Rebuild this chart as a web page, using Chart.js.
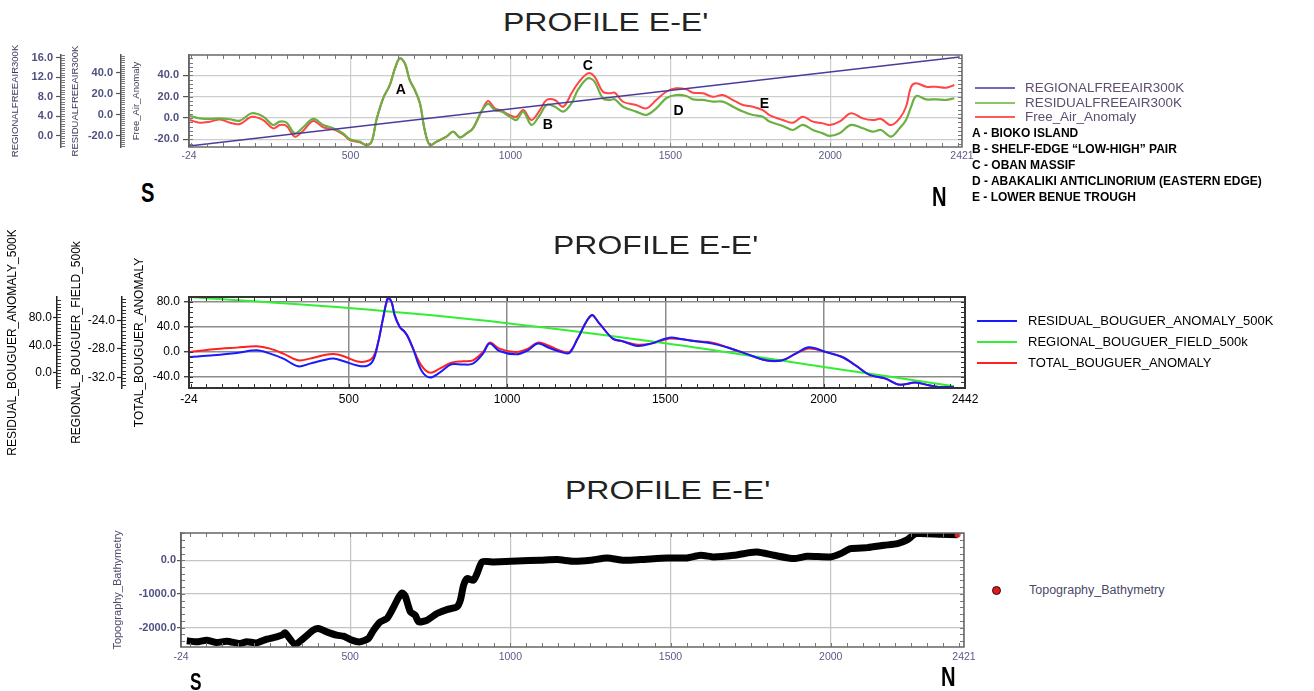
<!DOCTYPE html>
<html>
<head>
<meta charset="utf-8">
<script src="https://cdn.jsdelivr.net/npm/chart.js@4.4.1/dist/chart.umd.min.js"></script>
<style>
  html, body { margin: 0; padding: 0; background: #fff; }
  body { width: 1314px; height: 691px; position: relative; overflow: hidden; font-family: "Liberation Sans", Arial, sans-serif; }
  canvas { position: absolute; }
  .t { position: absolute; white-space: nowrap; line-height: 1; transform-origin: left center; }
  .title { font-size: 25px; color: #222; transform: scaleX(1.28); }
  .leg1 { font-size: 12px; color: #5e4e70; transform: scaleX(1.12); }
  .note { font-size: 12px; font-weight: bold; color: #000; }
  .leg2 { font-size: 13px; color: #000; }
  .leg3 { font-size: 12.5px; color: #4a4a6a; }
  .dir { font-size: 28px; font-weight: bold; color: #000; transform: scaleX(0.72); }
  .sw { position: absolute; height: 2px; width: 40px; }
</style>
</head>
<body>

<canvas id="freeAir" width="978" height="130" style="left:0;top:40px"></canvas>
<canvas id="bouguer" width="985" height="245" style="left:0;top:230px"></canvas>
<canvas id="topo" width="880" height="155" style="left:100px;top:520px"></canvas>

<div class="t title" style="left:503px;top:10px">PROFILE E-E'</div>
<div class="t title" style="left:553px;top:233px">PROFILE E-E'</div>
<div class="t title" style="left:565px;top:478px">PROFILE E-E'</div>

<!-- top legend -->
<div class="sw" style="left:975px;top:87px;background:#7468b4"></div>
<div class="sw" style="left:975px;top:102px;background:#8cc468"></div>
<div class="sw" style="left:975px;top:116px;background:#ff5a5a"></div>
<div class="t leg1" style="left:1025px;top:82px">REGIONALFREEAIR300K</div>
<div class="t leg1" style="left:1025px;top:97px">RESIDUALFREEAIR300K</div>
<div class="t leg1" style="left:1025px;top:111px">Free_Air_Anomaly</div>
<div class="t note" style="left:972px;top:127px">A - BIOKO ISLAND</div>
<div class="t note" style="left:972px;top:143px">B - SHELF-EDGE “LOW-HIGH” PAIR</div>
<div class="t note" style="left:972px;top:159px">C - OBAN MASSIF</div>
<div class="t note" style="left:972px;top:175px">D - ABAKALIKI ANTICLINORIUM (EASTERN EDGE)</div>
<div class="t note" style="left:972px;top:191px">E - LOWER BENUE TROUGH</div>

<!-- middle legend -->
<div class="sw" style="left:977px;top:320px;background:#1a1aff"></div>
<div class="sw" style="left:977px;top:341px;background:#33ee33"></div>
<div class="sw" style="left:977px;top:362px;background:#ff2020"></div>
<div class="t leg2" style="left:1028px;top:314px">RESIDUAL_BOUGUER_ANOMALY_500K</div>
<div class="t leg2" style="left:1028px;top:335px">REGIONAL_BOUGUER_FIELD_500k</div>
<div class="t leg2" style="left:1028px;top:356px">TOTAL_BOUGUER_ANOMALY</div>

<!-- bottom legend -->
<div style="position:absolute;left:992px;top:586px;width:7px;height:7px;border-radius:50%;background:#d42020;border:1px solid #400"></div>
<div class="t leg3" style="left:1029px;top:584px">Topography_Bathymetry</div>

<div class="t dir" style="left:141px;top:179px">S</div>
<div class="t dir" style="left:932px;top:183px">N</div>
<div class="t dir" style="left:190px;top:670px;font-size:24px">S</div>
<div class="t dir" style="left:941px;top:663px">N</div>

<script>
// ---- free-air profile (top) ----
const faDist = [-2, 29, 60, 92, 123, 154, 191, 227, 258, 279, 300, 326, 352, 383, 415, 446, 477, 498, 529, 550,
  566, 581, 602, 623, 639, 654, 670, 685, 701, 717, 732, 748, 769, 800, 821, 842, 863, 883, 909, 930,
  951, 972, 998, 1019, 1040, 1066, 1092, 1113, 1139, 1165, 1191,
  1211, 1242, 1263, 1289, 1310, 1326, 1352, 1393, 1425, 1456, 1487, 1518, 1550, 1571, 1602, 1633, 1664, 1696, 1727, 1758,
  1789, 1810, 1852, 1883, 1914, 1946, 1977, 1998, 2029, 2065, 2102, 2133, 2159, 2190, 2217, 2237, 2253, 2269, 2300, 2331,
  2362, 2388];
const faResidual = [-1.0, -3.2, -3.8, -3.2, -4.1, -5.4, 1.6, -1.6, -9.5, -6.3, -7.3, -17.5, -11.7, -3.8, -9.5, -12.7, -17.5, -23.2, -25.4, -28.6,
  -25.4, -4.8, 15.9, 28.6, 44.4, 54.0, 49.2, 33.3, 23.8, 11.1, -14.3, -28.6, -25.4, -20.6, -15.9, -21.3, -17.5, -12.7, 3.2, 10.5,
  4.8, 3.2, -1.6, -4.8, 3.2, -9.5, 0, 9.5, 7.9, 3.2, 11.1,
  23.8, 34.9, 31.7, 15.9, 14.3, 14.9, 7.9, 3.2, 0, 6.3, 15.9, 19.0, 18.1, 14.9, 14.3, 12.7, 12.7, 7.9, 3.2, 0,
  -1.6, -6.3, -10.5, -14.3, -9.5, -14.3, -17.5, -20.0, -17.5, -9.5, -12.7, -15.9, -14.3, -20.6, -12.7, -4.8, 7.9, 18.1, 14.9, 14.9,
  14.3, 15.9];
const faAnomaly = [-1.9, -4.4, -3.4, -1.3, -4.4, -5.6, 1.2, -1.9, -9.7, -6.6, -7.5, -17.5, -11.9, -2.8, -8.8, -10.6, -15.3, -20.7, -22.8, -25.4,
  -22.2, -1.9, 18.5, 31.0, 46.6, 56.0, 51.3, 35.7, 26.3, 13.8, -11.3, -25.4, -22.2, -17.5, -12.8, -18.2, -14.4, -9.7, 5.9, 16.0,
  9.1, 6.9, 2.8, 1.2, 7.5, -1.9, 7.5, 16.9, 16.9, 10.6, 23.2,
  32.6, 42.0, 38.8, 24.7, 23.2, 23.8, 15.3, 12.2, 9.1, 16.9, 24.7, 27.9, 26.9, 23.8, 23.2, 20.0, 21.6, 16.9, 12.2, 10.6,
  7.5, 2.8, -1.9, -4.4, 1.2, -3.4, -5.0, -6.6, -3.4, 4.4, -0.3, -1.9, -0.9, -6.6, -0.3, 10.6, 29.4, 32.6, 29.4, 29.4,
  28.5, 31.0];
const faRegionalDist = [-5, 2405];
const faRegional = [-2.1, 16.2];
const faTicks = [-20, 0, 20, 40];
const faResTicks = [-20, 0, 20, 40];
const faRegTicks = [0, 4, 8, 12, 16];
const markLabels = ["A", "B", "C", "D", "E"];
const markDist = [657, 1117, 1242, 1526, 1794];
const markValue = [26.3, -6.6, 48.8, 6.6, 13.1];

// ---- bouguer profile (middle) ----
const bgDist = [-2, 72, 146, 209, 251, 293, 340, 377, 419, 451, 482, 524, 556, 577, 593, 608, 624, 635, 645, 661,
  677, 687, 703, 729, 756, 787, 824, 861, 892, 924, 945, 976, 1029, 1066, 1097, 1134, 1171, 1197, 1223,
  1266, 1292, 1334, 1365, 1413, 1455, 1513, 1555, 1597, 1649, 1702, 1754, 1818, 1870, 1912, 1954, 2007, 2059, 2101, 2144,
  2196, 2238, 2291, 2333, 2364, 2412];
const bgResidual = [23.0, 25.5, 28.8, 32.7, 27.9, 20.7, 9.6, 13.5, 18.3, 20.7, 17.3, 11.1, 10.1, 18.3, 44.6, 78.3, 109.4, 102.2, 83.0, 66.2,
  59.0, 51.8, 35.1, 3.9, -6.6, 0.6, 12.5, 12.1, 13.5, 27.9, 42.3, 31.7, 26.9, 32.7, 42.3, 36.0, 30.2, 28.8, 49.5,
  83.0, 71.1, 49.5, 45.6, 38.8, 42.3, 50.9, 48.5, 45.6, 42.3, 36.0, 27.9, 18.3, 18.3, 27.9, 37.0, 30.2, 23.0, 11.1, -2.3,
  -8.1, -16.7, -13.8, -17.7, -20.1, -20.1];
const bgTotal = [0.0, 4.3, 7.0, 9.1, 5.4, -2.6, -13.3, -10.6, -5.3, -3.2, -6.4, -14.9, -14.9, -8.0, 16.0, 53.4, 85.4, 80.0, 58.7, 40.0,
  32.0, 24.0, 5.4, -21.3, -33.0, -26.6, -17.0, -14.9, -13.3, 0.0, 15.0, 5.4, 0.0, 5.4, 15.0, 9.6, 1.6, 0.0, 21.4,
  58.7, 45.4, 21.4, 17.1, 11.8, 13.4, 21.4, 20.3, 17.1, 15.0, 6.4, -2.6, -13.3, -13.3, -2.6, 5.4, 0.0, -8.0, -21.3, -36.2,
  -42.6, -52.2, -49.0, -53.3, -56.0, -56.0];
const bgRegionalDist = [-5, 500, 1000, 1500, 2000, 2412];
const bgRegional = [-20.75, -22.3, -24.4, -27.2, -30.5, -33.2];
const bgTotTicks = [-40, 0, 40, 80];
const bgRegTicks = [-32, -28, -24];
const bgResTicks = [0, 40, 80];

// ---- topography / bathymetry (bottom) ----
const topoDist = [-10, 21, 52, 83, 115, 156, 177, 208, 240, 271, 287, 297, 328, 354, 385, 401, 427, 458, 479, 505,
  531, 557, 573, 594, 615, 636, 651, 662, 672, 688, 703, 714, 740, 771, 802, 833, 844, 854, 865, 885,
  896, 912, 948, 1021, 1094, 1146, 1198, 1250, 1302, 1354, 1406, 1490, 1552, 1594, 1635, 1698, 1740, 1771, 1823, 1885,
  1927, 2000, 2031, 2062, 2115, 2167, 2208, 2240, 2266, 2344, 2396];
const topoElev = [-2393, -2423, -2373, -2443, -2403, -2473, -2423, -2453, -2344, -2274, -2225, -2156, -2502, -2324, -2077, -2027, -2126, -2225, -2255, -2373,
  -2423, -2324, -2077, -1830, -1730, -1385, -1107, -969, -1068, -1533, -1632, -1830, -1780, -1582, -1464, -1385, -1187, -742, -544, -593,
  -396, -49, -49, -20, 0, 20, -30, 0, 69, 0, 20, 69, 69, 148, 99, 148, 218, 247, 148, 49,
  119, 99, 198, 346, 376, 445, 494, 613, 791, 771, 761];
const topoTicks = [-2000, -1000, 0];

// x axis: gridlines at these distances, ends labelled with the profile limits
const xGridTicks = [500, 1000, 1500, 2000];
const startLabel = "-24";

const FONT = "'Liberation Sans', Arial, sans-serif";

function pts(xs, ys) {
  return xs.map((x, i) => ({ x: x, y: ys[i] }));
}

// plot frame with small inward ticks, plus comb ticks on the extra axes
const framePlugin = {
  id: "frame",
  afterDatasetsDraw(chart, args, opts) {
    const { ctx, chartArea: a } = chart;
    const xs = chart.scales.x;
    const ys = chart.scales[opts.yAxis];
    ctx.save();
    ctx.strokeStyle = opts.tickColor;
    ctx.lineWidth = 1;
    ctx.beginPath();
    for (let v = Math.ceil(xs.min / opts.minorX) * opts.minorX; v <= xs.max; v += opts.minorX) {
      const px = Math.round(xs.getPixelForValue(v)) + 0.5;
      ctx.moveTo(px, a.top); ctx.lineTo(px, a.top + 4);
      ctx.moveTo(px, a.bottom); ctx.lineTo(px, a.bottom - 4);
    }
    for (let v = Math.ceil(ys.min / opts.minorY) * opts.minorY; v <= ys.max; v += opts.minorY) {
      const py = Math.round(ys.getPixelForValue(v)) + 0.5;
      ctx.moveTo(a.left, py); ctx.lineTo(a.left + 4, py);
      ctx.moveTo(a.right, py); ctx.lineTo(a.right - 4, py);
    }
    (opts.combs || []).forEach((c) => {
      const s = chart.scales[c.id];
      for (let v = Math.ceil(s.min / c.step) * c.step; v <= s.max; v += c.step) {
        const py = Math.round(s.getPixelForValue(v)) + 0.5;
        ctx.moveTo(s.right, py); ctx.lineTo(s.right + 4, py);
      }
    });
    ctx.stroke();
    ctx.strokeStyle = opts.color;
    ctx.lineWidth = opts.width;
    ctx.strokeRect(a.left, a.top, a.right - a.left, a.bottom - a.top);
    ctx.restore();
  },
};

const marksPlugin = {
  id: "marks",
  afterDatasetsDraw(chart) {
    const { ctx } = chart;
    const xs = chart.scales.x, ys = chart.scales.yFA;
    ctx.save();
    ctx.font = "bold 14px " + FONT;
    ctx.fillStyle = "#000";
    ctx.textAlign = "center";
    ctx.textBaseline = "middle";
    markLabels.forEach((m, i) => {
      ctx.fillText(m, xs.getPixelForValue(markDist[i]), ys.getPixelForValue(markValue[i]));
    });
    ctx.restore();
  },
};

function xAxis(min, max, endLabel, o) {
  return {
    type: "linear",
    min: min,
    max: max,
    afterFit: (s) => { s.height = o.height; },
    afterBuildTicks: (s) => { s.ticks = [min, ...xGridTicks, max].map((v) => ({ value: v })); },
    ticks: {
      color: o.color, font: { family: FONT, size: o.size, weight: o.weight || "normal" }, padding: o.pad, maxRotation: 0, autoSkip: false,
      callback: (v) => (v === min ? startLabel : v === max ? endLabel : String(v)),
    },
    grid: { color: o.grid, lineWidth: o.gridWidth, drawTicks: false },
    border: { display: false },
  };
}

function yAxis(o) {
  return {
    type: "linear",
    position: "left",
    weight: o.weight,
    min: o.min,
    max: o.max,
    afterFit: (s) => { s.width = o.width; },
    afterBuildTicks: (s) => { s.ticks = o.ticks.map((v) => ({ value: v })); },
    ticks: {
      padding: o.tickPad, color: o.color, autoSkip: false,
      font: { family: FONT, size: o.size, weight: o.fontWeight || "normal" }, callback: (v) => v.toFixed(1),
    },
    grid: {
      drawOnChartArea: !!o.grid, color: o.grid || "#000", lineWidth: o.gridWidth || 1,
      tickLength: o.tickLen, tickColor: o.axisColor, tickWidth: 1.2,
    },
    border: { display: true, color: o.axisColor, width: 1.5 },
    title: {
      display: true, text: o.title, color: o.titleColor || o.color,
      font: { family: FONT, size: o.titleSize }, padding: { top: o.titlePad, bottom: 0 },
    },
  };
}

const baseOptions = {
  responsive: false,
  animation: false,
  events: [],
};

// top chart
new Chart(document.getElementById("freeAir"), {
  type: "line",
  data: {
    datasets: [
      { label: "REGIONALFREEAIR300K", data: pts(faRegionalDist, faRegional), yAxisID: "yReg", borderColor: "#4a3c9c", borderWidth: 1.5, pointRadius: 0 },
      { label: "RESIDUALFREEAIR300K", data: pts(faDist, faResidual), yAxisID: "yRes", borderColor: "#6cb044", borderWidth: 2.2, pointRadius: 0, tension: 0.35 },
      { label: "Free_Air_Anomaly", data: pts(faDist, faAnomaly), yAxisID: "yFA", borderColor: "#ff4545", borderWidth: 2, pointRadius: 0, tension: 0.35 },
    ],
  },
  plugins: [framePlugin, marksPlugin],
  options: {
    ...baseOptions,
    layout: { padding: { top: 15, right: 16, bottom: 0, left: 0 } },
    plugins: {
      legend: { display: false }, tooltip: { enabled: false },
      frame: { color: "#6a6a6a", width: 1.5, tickColor: "#777", yAxis: "yFA", minorX: 50, minorY: 4,
        combs: [{ id: "yRes", step: 2 }, { id: "yReg", step: 0.5 }] },
    },
    scales: {
      x: xAxis(-5, 2412, "2421", { height: 23, color: "#5a5a86", size: 10.5, pad: 3, grid: "#cdcdcd", gridWidth: 1.2 }),
      yFA: yAxis({ weight: 0, min: -27.2, max: 59.2, ticks: faTicks, width: 68, tickPad: 4, tickLen: 6, size: 11, color: "#505080",
        fontWeight: "bold", axisColor: "#555", grid: "#cdcdcd", gridWidth: 1.2, title: "Free_Air_Anomaly", titleSize: 9.5, titlePad: 10, titleColor: "#3a3a5a" }),
      yRes: yAxis({ weight: 1, min: -30.5, max: 57.1, ticks: faResTicks, width: 60, tickPad: 3, tickLen: 5, size: 11, color: "#505080",
        fontWeight: "bold", axisColor: "#555", title: "RESIDUALFREEAIR300K", titleSize: 9.5, titlePad: 9, titleColor: "#3a3a5a" }),
      yReg: yAxis({ weight: 2, min: -2.3, max: 16.6, ticks: faRegTicks, width: 61, tickPad: 3, tickLen: 5, size: 11, color: "#505080",
        fontWeight: "bold", axisColor: "#555", title: "REGIONALFREEAIR300K", titleSize: 9.5, titlePad: 10, titleColor: "#3a3a5a" }),
    },
  },
});

// middle chart
new Chart(document.getElementById("bouguer"), {
  type: "line",
  data: {
    datasets: [
      { label: "RESIDUAL_BOUGUER_ANOMALY_500K", data: pts(bgDist, bgResidual), yAxisID: "yRes", borderColor: "#1a1aff", borderWidth: 2, pointRadius: 0, tension: 0.35 },
      { label: "REGIONAL_BOUGUER_FIELD_500k", data: pts(bgRegionalDist, bgRegional), yAxisID: "yReg", borderColor: "#33ee33", borderWidth: 2, pointRadius: 0, tension: 0.3 },
      { label: "TOTAL_BOUGUER_ANOMALY", data: pts(bgDist, bgTotal), yAxisID: "yTot", borderColor: "#ff2020", borderWidth: 2, pointRadius: 0, tension: 0.35 },
    ],
  },
  plugins: [framePlugin],
  options: {
    ...baseOptions,
    layout: { padding: { top: 67, right: 20, bottom: 64, left: 0 } },
    plugins: {
      legend: { display: false }, tooltip: { enabled: false },
      frame: { color: "#333", width: 2, tickColor: "#333", yAxis: "yTot", minorX: 50, minorY: 8,
        combs: [{ id: "yReg", step: 0.5 }, { id: "yRes", step: 5 }] },
    },
    scales: {
      x: xAxis(-5, 2447, "2442", { height: 23, color: "#000", size: 12, pad: 4, grid: "#8c8c8c", gridWidth: 1.5 }),
      yTot: yAxis({ weight: 0, min: -57.6, max: 88, ticks: bgTotTicks, width: 67, tickPad: 4, tickLen: 5, size: 12, color: "#000",
        axisColor: "#222", grid: "#8c8c8c", gridWidth: 1.5, title: "TOTAL_BOUGUER_ANOMALY", titleSize: 12, titlePad: 10 }),
      yReg: yAxis({ weight: 1, min: -33.44, max: -20.75, ticks: bgRegTicks, width: 65, tickPad: 2, tickLen: 5, size: 12, color: "#000",
        axisColor: "#222", title: "REGIONAL_BOUGUER_FIELD_500k", titleSize: 12, titlePad: 12 }),
      yRes: yAxis({ weight: 2, min: -21.6, max: 109.4, ticks: bgResTicks, width: 57, tickPad: 1, tickLen: 4, size: 12, color: "#000",
        axisColor: "#222", title: "RESIDUAL_BOUGUER_ANOMALY_500K", titleSize: 12, titlePad: 5 }),
    },
  },
});

// bottom chart
const lastTopo = topoDist.length - 1;
new Chart(document.getElementById("topo"), {
  type: "line",
  data: {
    datasets: [
      {
        label: "Topography_Bathymetry", data: pts(topoDist, topoElev), yAxisID: "yTopo",
        borderColor: "#000", borderWidth: 7, tension: 0.2,
        pointRadius: (c) => (c.dataIndex === lastTopo ? 3 : 0),
        pointBackgroundColor: "#e02020", pointBorderWidth: 0,
      },
    ],
  },
  plugins: [framePlugin],
  options: {
    ...baseOptions,
    layout: { padding: { top: 13, right: 16, bottom: 0, left: 0 } },
    plugins: {
      legend: { display: false }, tooltip: { enabled: false },
      frame: { color: "#666", width: 1.5, tickColor: "#777", yAxis: "yTopo", minorX: 50, minorY: 200 },
    },
    scales: {
      x: xAxis(-28, 2416, "2421", { height: 28, color: "#5a5a86", size: 10.5, pad: 4, grid: "#c4c4c4", gridWidth: 1.2 }),
      yTopo: yAxis({ weight: 0, min: -2576, max: 810, ticks: topoTicks, width: 81, tickPad: 1, tickLen: 4, size: 11, color: "#505080",
        fontWeight: "bold", axisColor: "#555", grid: "#c4c4c4", gridWidth: 1.2, title: "Topography_Bathymetry", titleSize: 11, titlePad: 11, titleColor: "#4a4a6a" }),
    },
  },
});
</script>
</body>
</html>
